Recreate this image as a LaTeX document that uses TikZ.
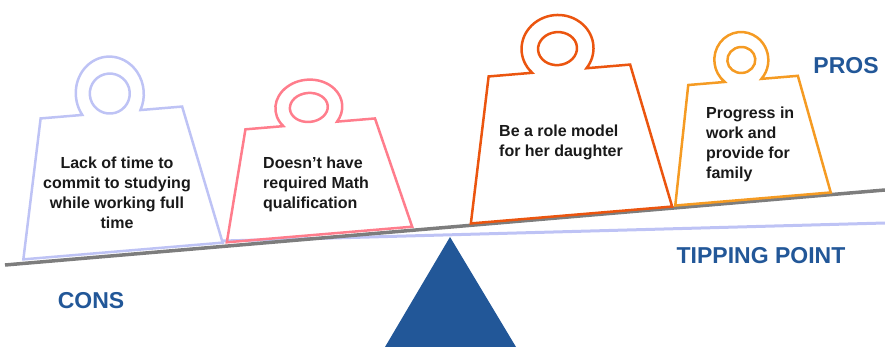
\documentclass[tikz,border=0pt]{standalone}
\usepackage{fontspec}
\setmainfont{Liberation Sans}
\usetikzlibrary{positioning}
\definecolor{lavender}{RGB}{190, 195, 245}
\definecolor{rosepink}{RGB}{255, 125, 140}
\definecolor{deeporange}{RGB}{235, 85, 15}
\definecolor{lightorange}{RGB}{245, 155, 35}
\definecolor{beamgray}{RGB}{125, 125, 125}
\definecolor{deepblue}{RGB}{34, 87, 152}
\tikzset{
  weightline/.style = {line width=2.5pt, rotate=4.8},
  reason/.style     = {font=\fontsize{16}{20}\selectfont\bfseries,
                       text=black!90, inner sep=0pt},
  side/.style       = {font=\fontsize{23}{28}\selectfont\bfseries,
                       text=deepblue, inner sep=0pt},
  beam/.style       = {line width=3.5pt, beamgray},
  level/.style      = {line width=3pt, lavender},
  % #1 bottom half width, #2 top half width, #3 height,
  % #4 #5 ring radii, #6 ring lift, #7 #8 hole radii
  pics/weight/.style n args={8}{code={
    \draw (-#1,0) -- (-#2,#3) -- ({-#4*cos(asin(#6/#5))},#3)
      arc[start angle={180+asin(#6/#5)}, end angle={-asin(#6/#5)},
          x radius=#4pt, y radius=#5pt]
      -- (#2,#3) -- (#1,0) -- cycle;
    \draw (0,#3+#6) ellipse[x radius=#7pt, y radius=#8pt];
  }}
}

\begin{document}
\begin{tikzpicture}[x=1pt, y=1pt]
  \useasboundingbox (0,0) rectangle (885,-347);

  % fulcrum and beam
  \fill[deepblue] (450,-237) coordinate (tip) -- (385,-347) -- (516,-347) -- cycle;
  \coordinate (levelstart) at (222,-241);
  \coordinate (levelend) at (885,-223);
  \draw[level] (levelstart) -- (levelend);
  \coordinate (beamleft) at (5,-265);
  \coordinate (beamright) at (885,-190);
  \draw[beam] (beamleft) -- (beamright);

  % cons
  \pic[weightline, color=lavender] (time) at (123,-251)
    {weight={100}{71}{139}{34}{37}{19}{20}{20}};
  \pic[weightline, color=rosepink] (math) at (319.5,-234.5)
    {weight={93}{65}{111}{33.5}{27.8}{16.5}{19}{14.5}};
  % pros
  \pic[weightline, color=deeporange] (model) at (571.5,-215)
    {weight={101}{71}{145}{36}{33.6}{22}{19.5}{16.5}};
  \pic[weightline, color=lightorange] (family) at (753,-199)
    {weight={78}{55}{119}{27}{28}{20.5}{14}{13}};

  \node[reason, align=center] (timetext) at (117,-193)
    {Lack of time to\\commit to studying\\while working full\\time};
  \node[reason, align=left, anchor=west] (mathtext) at (263,-184)
    {Doesn’t have\\required Math\\qualification};
  \node[reason, align=left, anchor=west] (modeltext) at (499,-142)
    {Be a role model\\for her daughter};
  \node[reason, align=left, anchor=west] (familytext) at (706,-144)
    {Progress in\\work and\\provide for\\family};

  \node[side] (pros) at (846,-66) {PROS};
  \node[side] (cons) at (91,-301) {CONS};
  \node[side] (tipping) at (761,-256) {TIPPING POINT};
\end{tikzpicture}
\end{document}
